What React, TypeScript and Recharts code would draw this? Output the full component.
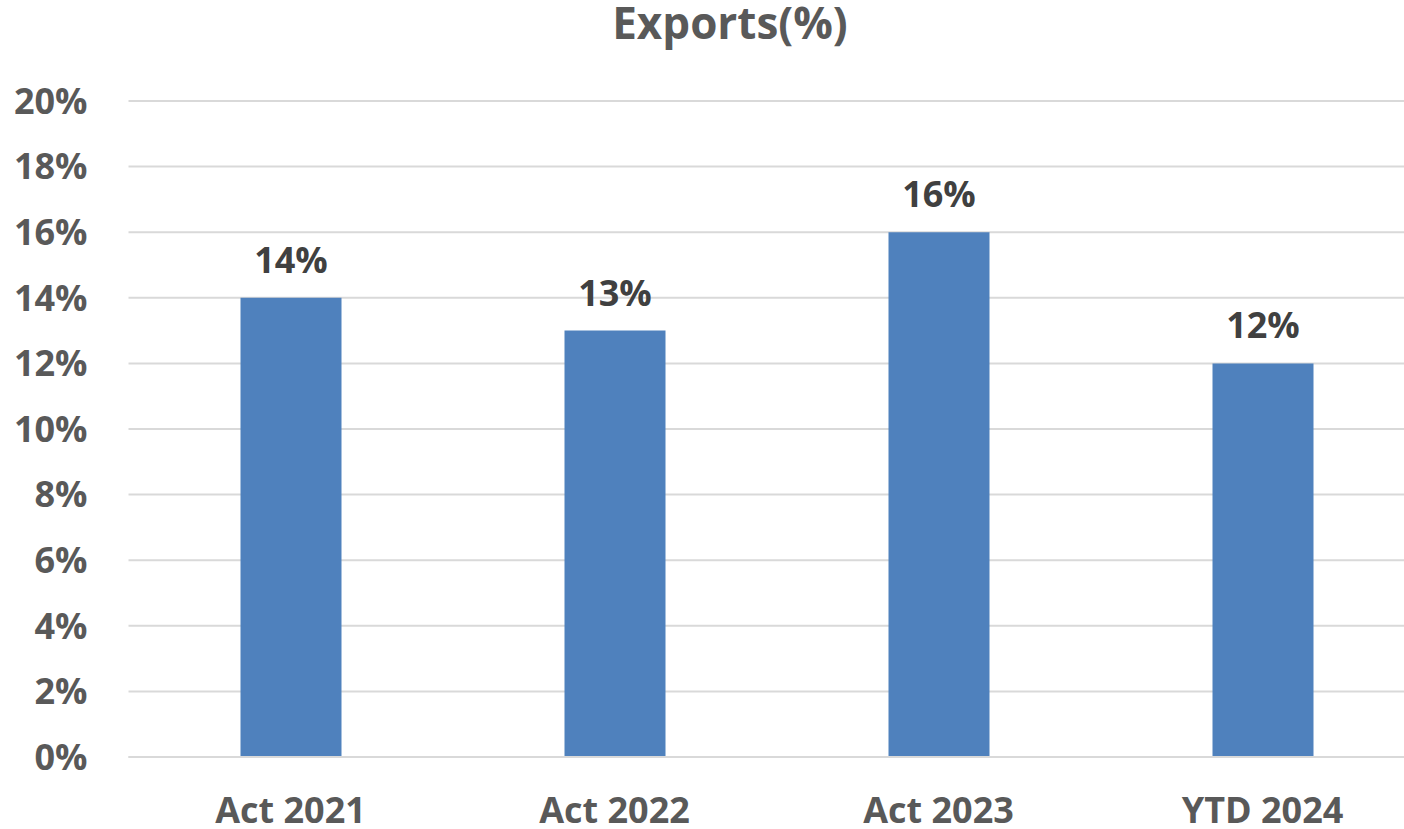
import { BarChart, Bar, XAxis, YAxis, CartesianGrid, LabelList } from 'recharts'

const categories = ['Act 2021', 'Act 2022', 'Act 2023', 'YTD 2024']
const exportsPct = [14, 13, 16, 12]
const yTicks = [0, 2, 4, 6, 8, 10, 12, 14, 16, 18, 20]

const data = categories.map((name, i) => ({ name, value: exportsPct[i] }))

const font = '"Open Sans", Lato, sans-serif'

export default function App() {
    return (
        <div style={{ position: 'absolute', left: 0, top: 0, width: 1404, height: 829, overflow: 'hidden', background: '#fff', fontFamily: font }}>
            <div
                style={{
                    position: 'absolute',
                    left: 730 - 300,
                    width: 600,
                    top: 0,
                    textAlign: 'center',
                    fontSize: 44,
                    lineHeight: '44px',
                    fontWeight: 700,
                    color: '#595959',
                }}
            >
                Exports(%)
            </div>
            <BarChart
                width={1430}
                height={829}
                data={data}
                margin={{ top: 101, right: 5.5, bottom: 0, left: 0 }}
                barCategoryGap={0}
            >
                <CartesianGrid vertical={false} stroke="#d9d9d9" strokeWidth={2} />
                <XAxis
                    dataKey="name"
                    height={72}
                    axisLine={{ stroke: '#d9d9d9', strokeWidth: 2 }}
                    tickLine={false}
                    tickSize={0}
                    tickMargin={40}
                    tick={{ fill: '#595959', fontSize: 36, fontWeight: 700, fontFamily: font }}
                />
                <YAxis
                    width={128.5}
                    domain={[0, 20]}
                    ticks={yTicks}
                    interval={0}
                    axisLine={false}
                    tickLine={false}
                    tickSize={0}
                    tickMargin={41}
                    tickFormatter={(v: number) => `${v}%`}
                    tick={{ fill: '#595959', fontSize: 36, fontWeight: 700, fontFamily: font }}
                />
                <Bar dataKey="value" fill="#4f81bd" barSize={101} isAnimationActive={false}>
                    <LabelList
                        dataKey="value"
                        position="top"
                        offset={25}
                        formatter={(v: number) => `${v}%`}
                        style={{ fill: '#404040', fontSize: 36, fontWeight: 700, fontFamily: font }}
                    />
                </Bar>
            </BarChart>
        </div>
    )
}
